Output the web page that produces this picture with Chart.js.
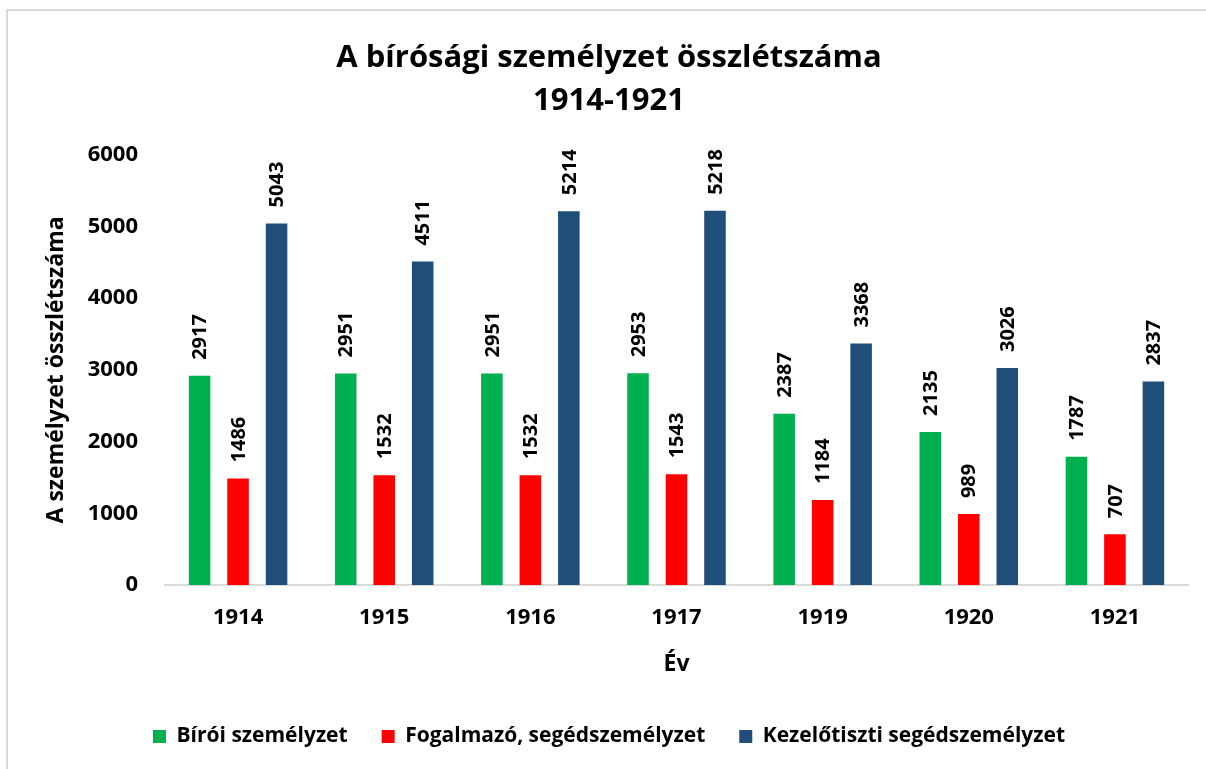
<!DOCTYPE html>
<html>
<head>
<meta charset="utf-8">
<title>A bírósági személyzet összlétszáma</title>
<script src="https://cdn.jsdelivr.net/npm/chart.js@4"></script>
<style>
    html, body { margin: 0; padding: 0; background: #ffffff; }
    body { width: 1206px; height: 769px; position: relative; overflow: hidden; }
    .frame {
        position: absolute; left: 6px; top: 9px; width: 1210px; height: 770px;
        border: 2px solid #d9d9d9; box-sizing: border-box;
    }
    .chart-container { position: absolute; left: 0; top: 0; width: 1206px; height: 769px; }
</style>
</head>
<body>
<div class="frame"></div>
<div class="chart-container"><canvas id="staffChart"></canvas></div>
<script>
// Data
const years = ['1914', '1915', '1916', '1917', '1919', '1920', '1921'];
const biroi = [2917, 2951, 2951, 2953, 2387, 2135, 1787];
const fogalmazo = [1486, 1532, 1532, 1543, 1184, 989, 707];
const kezelo = [5043, 4511, 5214, 5218, 3368, 3026, 2837];
const yTicks = [0, 1000, 2000, 3000, 4000, 5000, 6000];

const seriesNames = ['Bírói személyzet', 'Fogalmazó, segédszemélyzet', 'Kezelőtiszti segédszemélyzet'];
const seriesColors = ['#00B050', '#FF0000', '#1F4E79'];

const fontFamily = '"Open Sans", "Noto Sans", sans-serif';

// Rotated value labels above each bar
const barLabels = {
    id: 'barLabels',
    afterDatasetsDraw(chart) {
        const ctx = chart.ctx;
        ctx.save();
        ctx.font = 'bold 20px ' + fontFamily;
        ctx.fillStyle = '#000000';
        ctx.textAlign = 'left';
        ctx.textBaseline = 'middle';
        chart.data.datasets.forEach((ds, i) => {
            const meta = chart.getDatasetMeta(i);
            meta.data.forEach((bar, j) => {
                ctx.save();
                ctx.translate(bar.x + 1, bar.y - 16);
                ctx.rotate(-Math.PI / 2);
                ctx.fillText(String(ds.data[j]), 0, 0);
                ctx.restore();
            });
        });
        ctx.restore();
    }
};

function initializeChart() {
    const canvasElem = document.getElementById('staffChart');
    if (typeof Chart === 'undefined' || !canvasElem) {
        console.error('Chart.js or canvas missing');
        return;
    }

    const datasets = [biroi, fogalmazo, kezelo].map((values, i) => ({
        label: seriesNames[i],
        data: values,
        backgroundColor: seriesColors[i],
        borderColor: seriesColors[i],
        borderWidth: 0,
        categoryPercentage: 0.79,
        barPercentage: 0.56
    }));

    new Chart(canvasElem, {
        type: 'bar',
        data: { labels: years, datasets: datasets },
        plugins: [barLabels],
        options: {
            responsive: true,
            maintainAspectRatio: false,
            animation: false,
            layout: { padding: { left: 30, right: 18, top: 0, bottom: 12 } },
            plugins: {
                title: {
                    display: true,
                    text: ['A bírósági személyzet összlétszáma', '1914-1921'],
                    color: '#000000',
                    font: { family: fontFamily, size: 31, weight: 'bold', lineHeight: 1.4 },
                    padding: { top: 36, bottom: 32 }
                },
                legend: {
                    position: 'bottom',
                    labels: {
                        color: '#000000',
                        font: { family: fontFamily, size: 21, weight: 'bold' },
                        boxWidth: 13,
                        boxHeight: 13,
                        padding: 34
                    }
                },
                tooltip: { enabled: false }
            },
            scales: {
                x: {
                    grid: { display: false, drawTicks: false },
                    border: { display: true, color: '#d9d9d9', width: 2 },
                    ticks: {
                        color: '#000000',
                        font: { family: fontFamily, size: 22, weight: 'bold' },
                        padding: 20
                    },
                    title: {
                        display: true,
                        text: 'Év',
                        color: '#000000',
                        font: { family: fontFamily, size: 23, weight: 'bold' },
                        padding: { top: 0, bottom: 14 }
                    },
                    afterFit(scale) { scale.height = 107; }
                },
                y: {
                    min: yTicks[0],
                    max: yTicks[yTicks.length - 1],
                    grid: { display: false, drawTicks: false },
                    border: { display: false },
                    afterBuildTicks(scale) { scale.ticks = yTicks.map(v => ({ value: v })); },
                    ticks: {
                        color: '#000000',
                        font: { family: fontFamily, size: 22, weight: 'bold' },
                        padding: 27,
                        callback: (value) => String(value)
                    },
                    title: {
                        display: true,
                        text: 'A személyzet összlétszáma',
                        color: '#000000',
                        font: { family: fontFamily, size: 23, weight: 'bold' },
                        padding: { top: 13, bottom: 0 }
                    },
                    afterFit(scale) { scale.width = 135; }
                }
            }
        }
    });
}

initializeChart();
</script>
</body>
</html>
